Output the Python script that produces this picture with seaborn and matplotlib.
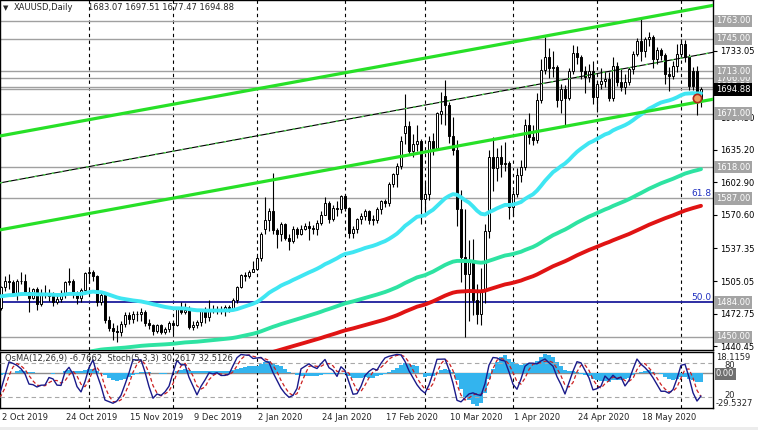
import matplotlib
matplotlib.use('Agg')
import matplotlib.pyplot as plt
import numpy as np
import pandas as pd
import seaborn as sns

sns.set_style('white')
plt.rcParams['font.family'] = ['DejaVu Sans']

# daily XAUUSD bars, 3 Sep 2019 .. 8 Jun 2020 (September only warms up the indicators)
opens = [
    1529, 1546, 1547, 1518, 1506, 1498, 1486, 1497, 1500, 1488, 1498, 1502, 1494, 1499, 1516, 1522, 1532, 1504, 1505, 1497,
    1472, 1478, 1499, 1505, 1504, 1493, 1505, 1505, 1494, 1488, 1497, 1482, 1491, 1492, 1490, 1484, 1487, 1492, 1504, 1505, 1493, 1488, 1496,
    1513, 1514, 1510, 1484, 1491, 1467, 1459, 1456, 1455, 1463, 1471, 1468, 1472, 1472, 1474, 1464, 1462, 1456, 1462, 1455, 1458,
    1464, 1462, 1477, 1474, 1476, 1460, 1462, 1465, 1475, 1469, 1476, 1476, 1476, 1475, 1479, 1478, 1486, 1499, 1511, 1510, 1514,
    1517, 1528, 1557, 1566, 1574, 1556, 1552, 1562, 1548, 1545, 1557, 1552, 1557, 1560, 1558, 1557, 1563, 1571, 1582, 1567, 1577, 1576,
    1589, 1577, 1553, 1557, 1567, 1570, 1574, 1566, 1566, 1576, 1584, 1582, 1601, 1611, 1619, 1652, 1659, 1634, 1641, 1644,
    1586, 1591, 1644, 1637, 1671, 1688, 1679, 1649, 1635, 1576, 1529, 1512, 1526, 1486, 1472, 1496, 1555, 1628, 1617, 1628, 1621, 1622,
    1578, 1591, 1610, 1618, 1660, 1648, 1645, 1684, 1714, 1727, 1716, 1717, 1684, 1695, 1686, 1713, 1731, 1727, 1713, 1707, 1713,
    1687, 1700, 1703, 1705, 1686, 1718, 1702, 1697, 1702, 1715, 1730, 1743, 1733, 1745, 1747, 1725, 1734, 1729, 1710, 1708, 1718,
    1730, 1740, 1727, 1713, 1713, 1683.07,
]
highs = [
    1547, 1552, 1556, 1530, 1513, 1502, 1501, 1523, 1506, 1515, 1508, 1512, 1508, 1518, 1527, 1535, 1535, 1514, 1510, 1497,
    1480, 1500, 1510, 1512, 1506, 1507, 1514, 1512, 1499, 1498, 1499, 1497, 1501, 1497, 1494, 1491, 1496, 1505, 1518, 1507, 1495, 1498, 1514,
    1517, 1516, 1511, 1495, 1494, 1470, 1464, 1462, 1466, 1474, 1474, 1475, 1475, 1478, 1476, 1468, 1463, 1463, 1463, 1460, 1466,
    1466, 1479, 1484, 1483, 1480, 1466, 1467, 1477, 1479, 1486, 1481, 1480, 1480, 1481, 1481, 1488, 1500, 1512, 1514, 1516, 1525,
    1530, 1554, 1588, 1577, 1612, 1558, 1564, 1563, 1552, 1560, 1559, 1561, 1563, 1565, 1561, 1566, 1574, 1588, 1584, 1580, 1584, 1590,
    1591, 1578, 1560, 1568, 1573, 1576, 1575, 1571, 1578, 1585, 1586, 1603, 1612, 1622, 1649, 1690, 1664, 1651, 1660, 1646,
    1603, 1649, 1652, 1673, 1692, 1704, 1682, 1668, 1645, 1595, 1576, 1546, 1547, 1502, 1518, 1562, 1635, 1648, 1637, 1640, 1643, 1624,
    1595, 1617, 1625, 1666, 1672, 1660, 1691, 1725, 1747, 1736, 1733, 1719, 1700, 1699, 1716, 1739, 1738, 1729, 1718, 1720, 1723,
    1703, 1716, 1712, 1712, 1727, 1722, 1716, 1710, 1717, 1733, 1746, 1765, 1747, 1752, 1749, 1737, 1736, 1731, 1717, 1723, 1740,
    1745, 1744, 1730, 1717, 1718, 1697.51,
]
lows = [
    1524, 1537, 1506, 1504, 1490, 1485, 1483, 1492, 1495, 1486, 1495, 1491, 1493, 1495, 1509, 1518, 1501, 1499, 1490, 1465,
    1459, 1476, 1495, 1497, 1490, 1486, 1502, 1492, 1474, 1487, 1476, 1480, 1488, 1485, 1480, 1482, 1484, 1488, 1501, 1488, 1482, 1484, 1492,
    1503, 1505, 1480, 1481, 1464, 1456, 1447, 1445, 1451, 1460, 1463, 1464, 1466, 1466, 1461, 1458, 1452, 1454, 1453, 1453, 1455,
    1453, 1461, 1472, 1472, 1458, 1457, 1459, 1461, 1464, 1466, 1473, 1472, 1472, 1470, 1474, 1477, 1483, 1498, 1505, 1508, 1514,
    1516, 1525, 1552, 1555, 1552, 1538, 1545, 1546, 1536, 1543, 1548, 1551, 1556, 1546, 1552, 1551, 1561, 1571, 1563, 1565, 1570, 1573,
    1574, 1548, 1548, 1553, 1562, 1566, 1562, 1561, 1563, 1572, 1578, 1579, 1598, 1598, 1616, 1641, 1630, 1628, 1634, 1562,
    1573, 1585, 1630, 1635, 1661, 1660, 1642, 1630, 1560, 1504, 1450, 1466, 1471, 1463, 1462, 1483, 1548, 1594, 1604, 1608, 1614, 1567,
    1570, 1588, 1603, 1615, 1641, 1640, 1642, 1681, 1710, 1706, 1707, 1678, 1672, 1660, 1684, 1710, 1720, 1705, 1691, 1702, 1680,
    1673, 1695, 1697, 1683, 1683, 1698, 1693, 1690, 1699, 1710, 1728, 1723, 1727, 1738, 1716, 1720, 1724, 1700, 1693, 1705, 1712,
    1726, 1722, 1694, 1694, 1670, 1677.47,
]
closes = [
    1546, 1547, 1518, 1506, 1498, 1486, 1497, 1500, 1488, 1498, 1502, 1494, 1499, 1516, 1522, 1532, 1504, 1505, 1497, 1472,
    1478, 1499, 1505, 1504, 1493, 1505, 1505, 1494, 1488, 1497, 1482, 1491, 1492, 1490, 1484, 1487, 1492, 1504, 1505, 1493, 1488, 1496, 1513,
    1514, 1510, 1484, 1491, 1467, 1459, 1456, 1455, 1463, 1471, 1468, 1472, 1472, 1474, 1464, 1462, 1456, 1462, 1455, 1458, 1464,
    1462, 1477, 1474, 1476, 1460, 1462, 1465, 1475, 1469, 1476, 1476, 1476, 1475, 1479, 1478, 1486, 1499, 1511, 1510, 1514, 1517,
    1528, 1552, 1566, 1574, 1556, 1552, 1562, 1548, 1545, 1557, 1552, 1557, 1560, 1558, 1557, 1563, 1571, 1582, 1567, 1577, 1576, 1589,
    1577, 1553, 1557, 1567, 1570, 1574, 1566, 1566, 1576, 1584, 1582, 1601, 1611, 1619, 1644, 1659, 1634, 1641, 1644, 1586,
    1591, 1644, 1637, 1672, 1674, 1679, 1649, 1635, 1576, 1529, 1512, 1526, 1486, 1472, 1496, 1555, 1628, 1617, 1628, 1621, 1622, 1578,
    1591, 1610, 1618, 1660, 1648, 1645, 1684, 1714, 1727, 1716, 1717, 1684, 1695, 1686, 1713, 1731, 1727, 1713, 1707, 1713, 1687,
    1700, 1703, 1705, 1686, 1718, 1702, 1697, 1702, 1715, 1730, 1743, 1733, 1745, 1747, 1725, 1734, 1729, 1710, 1708, 1718, 1730,
    1740, 1727, 1698, 1698, 1684, 1694.88,
]

# EMA starting values (3 Sep 2019), read back from where the lines sit on the chart
ema_seeds = {50: 1472, 144: 1380, 200: 1352}
ema_colors = {50: '#3fe6f2', 144: '#2ee3a2', 200: '#e01414'}

# horizontal levels on the price axis
grey_levels = [1763.0, 1745.0, 1713.0, 1706.0, 1697.5, 1671.0, 1618.0, 1587.0, 1450.0]
blue_level = 1484.0
bid = 1694.88
plain_ticks = [1440.45, 1472.75, 1505.05, 1537.35, 1570.60, 1602.90, 1635.20, 1667.50, 1733.05]

# indicator readouts as printed on the chart
osma_label = 'OsMA(12,26,9) -6.7662  Stoch(5,3,3) 30.2617 32.5126'

# channel: bar index (0 = 2 Oct 2019) and price at two anchor points
chan_x = [0, 175]
chan_upper = [1649.0, 1776.0]
chan_mid = [1602.5, 1729.5]
chan_lower = [1556.0, 1683.0]

W, H = 758, 430
PW = 713  # plot width in px


def ema(values, period, seed):
    a = 2.0 / (period + 1)
    e = seed
    out = []
    for v in values:
        e = e + a * (v - e)
        out.append(e)
    return np.array(out)


dates = pd.bdate_range('2019-09-03', '2020-06-08')
dates = dates.drop(pd.to_datetime(['2019-12-25', '2020-01-01', '2020-04-10']))
df = pd.DataFrame({'open': opens, 'high': highs, 'low': lows, 'close': closes}, index=dates)
first = dates.get_loc(pd.Timestamp('2019-10-02'))
df['x'] = np.arange(len(df)) - first

for p, s in ema_seeds.items():
    df['ema%d' % p] = ema(df['close'].values, p, s)

macd = df['close'].ewm(span=12, adjust=False).mean() - df['close'].ewm(span=26, adjust=False).mean()
df['osma'] = macd - macd.rolling(9).mean()
ll = df['low'].rolling(5).min()
hh = df['high'].rolling(5).max()
df['k'] = 100 * (df['close'] - ll).rolling(3).sum() / (hh - ll).rolling(3).sum()
df['d'] = df['k'].rolling(3).mean()

fig = plt.figure(figsize=(W / 100, H / 100), dpi=100)
ax = fig.add_axes([0, 1 - 350 / H, PW / W, 350 / H])
ax.set_xlim(-0.25, 178)
ax.set_ylim(1436.8, 1783.5)

month_starts = df.groupby([df.index.year, df.index.month])['x'].first().values
month_starts = month_starts[month_starts > 0]
for m in month_starts:
    ax.axvline(m, color='black', lw=0.8, ls=(0, (3, 3)), zorder=1)

for lv in grey_levels + [bid]:
    ax.axhline(lv, color='#a0a0a0', lw=1, zorder=1)
ax.axhline(blue_level, color='#1c1c9c', lw=1.3, zorder=1)
ax.text(177.6, 1587.8, '61.8', color='#2030c0', fontsize=6.5, ha='right', va='bottom')
ax.text(177.6, 1484.8, '50.0', color='#2030c0', fontsize=6.5, ha='right', va='bottom')

# candles
up = df['close'] >= df['open']
ax.vlines(df['x'], df['low'], df['high'], color='black', lw=0.8, zorder=3)
body_lo = np.minimum(df['open'], df['close'])
body_h = np.maximum(np.abs(df['close'] - df['open']), 0.6)
ax.bar(df['x'][up], body_h[up], bottom=body_lo[up], width=0.72, color='white',
       edgecolor='black', lw=0.7, zorder=4)
ax.bar(df['x'][~up], body_h[~up], bottom=body_lo[~up], width=0.72, color='black',
       edgecolor='black', lw=0.7, zorder=4)

# moving averages
for p in [200, 144, 50]:
    sns.lineplot(x=df['x'], y=df['ema%d' % p], ax=ax, color=ema_colors[p], lw=2.8,
                 zorder=5, legend=False)

# channel
ax.axline((chan_x[0], chan_upper[0]), (chan_x[1], chan_upper[1]), color='#27e027', lw=2.3, zorder=6)
ax.axline((chan_x[0], chan_lower[0]), (chan_x[1], chan_lower[1]), color='#27e027', lw=2.3, zorder=6)
ax.axline((chan_x[0], chan_mid[0]), (chan_x[1], chan_mid[1]), color='black', lw=0.8, zorder=6)
ax.axline((chan_x[0], chan_mid[0]), (chan_x[1], chan_mid[1]), color='#50e050', lw=0.9,
          ls=(0, (2, 5)), zorder=6)

ax.plot([174], [1686.5], marker='o', ms=6, mfc='#f0a060', mec='#b02818', mew=1.2, zorder=7)

ax.set_xlabel('')
ax.set_ylabel('')
ax.set_xticks([])
ax.yaxis.tick_right()
ax.set_yticks(plain_ticks)
ax.set_yticklabels(['%.2f' % t for t in plain_ticks])
ax.tick_params(axis='y', direction='out', length=3, pad=2, labelsize=6, width=0.8, colors='black')
for s in ax.spines.values():
    s.set_color('black')
    s.set_linewidth(1)

ytr = ax.get_yaxis_transform()
for lv in [1706.0, 1763.0, 1745.0, 1713.0, 1697.5, 1671.0, 1618.0, 1587.0, blue_level, 1450.0]:
    ax.text(1.004, lv, '%.2f' % lv, transform=ytr, ha='left', va='center', fontsize=6,
            color='white', clip_on=False, zorder=10,
            bbox=dict(boxstyle='square,pad=0.2', fc='#a4a4a4', ec='none'))
ax.text(1.004, bid, '%.2f' % bid, transform=ytr, ha='left', va='center', fontsize=6,
        color='white', clip_on=False, zorder=11,
        bbox=dict(boxstyle='square,pad=0.2', fc='black', ec='none'))

fig.text(3 / W, 1 - 8 / H, '\u25bc', fontsize=5, va='center', ha='left')
fig.text(14 / W, 1 - 8 / H, 'XAUUSD,Daily', fontsize=6, va='center', ha='left')
fig.text(88 / W, 1 - 8 / H, '%.2f %.2f %.2f %.2f' % (opens[-1], highs[-1], lows[-1], closes[-1]),
         fontsize=6, va='center', ha='left')

# oscillator window: OsMA histogram + Stochastic
ax2 = fig.add_axes([0, 1 - 408 / H, PW / W, 56 / H])
ax2.set_xlim(-0.25, 178)
ax2.set_ylim(-29.5327, 18.1159)
ax2.bar(df['x'], df['osma'], width=0.78, color='#33b4ee', lw=0, zorder=2)
ax2.axhline(0, color='#8c8c8c', lw=1, zorder=1)
for m in month_starts:
    ax2.axvline(m, color='black', lw=0.8, ls=(0, (3, 3)), zorder=1)
ax2.set_xticks([])
ax2.set_yticks([])
for s in ax2.spines.values():
    s.set_color('black')
    s.set_linewidth(1)

ax3 = ax2.twinx()
ax3.set_ylim(0, 100)
ax3.axhline(80, color='#a8a8a8', lw=0.8, ls=(0, (4, 3)))
ax3.axhline(20, color='#a8a8a8', lw=0.8, ls=(0, (4, 3)))
sns.lineplot(x=df['x'], y=df['d'], ax=ax3, color='#cc2020', lw=0.9, legend=False)
ax3.lines[-1].set_linestyle((0, (3, 2)))
sns.lineplot(x=df['x'], y=df['k'], ax=ax3, color='#1a1a8a', lw=1.0, legend=False)
ax3.set_xlim(-0.25, 178)
ax3.set_xticks([])
ax3.set_yticks([])
ax3.set_xlabel('')
ax3.set_ylabel('')
for s in ax3.spines.values():
    s.set_visible(False)

fig.text(5 / W, 1 - 358 / H, osma_label, fontsize=6, va='center', ha='left', color='#303030')
fig.text(716 / W, 1 - 357 / H, '18.1159', fontsize=6, va='center', ha='left')
fig.text(724 / W, 1 - 365 / H, '80', fontsize=6, va='center', ha='left')
fig.text(716 / W, 1 - 374 / H, '0.00', fontsize=6, va='center', ha='left', color='white',
         bbox=dict(boxstyle='square,pad=0.15', fc='#707070', ec='none'))
fig.text(724 / W, 1 - 396 / H, '20', fontsize=6, va='center', ha='left')
fig.text(716 / W, 1 - 404 / H, '-29.5327', fontsize=6, va='center', ha='left')

# date axis
lab = df[df['x'] >= 0].iloc[::16]
for dt, row in lab.iterrows():
    px = 4 * row['x'] + 2
    fig.text(px / W, 1 - 418 / H, '%d %s' % (dt.day, dt.strftime('%b %Y')), fontsize=6,
             va='center', ha='left')

fig.patches.append(plt.Rectangle((0, 0), 1, 3 / H, transform=fig.transFigure,
                                 fc='#ececec', ec='none'))

fig.savefig('out.png', dpi=100)
